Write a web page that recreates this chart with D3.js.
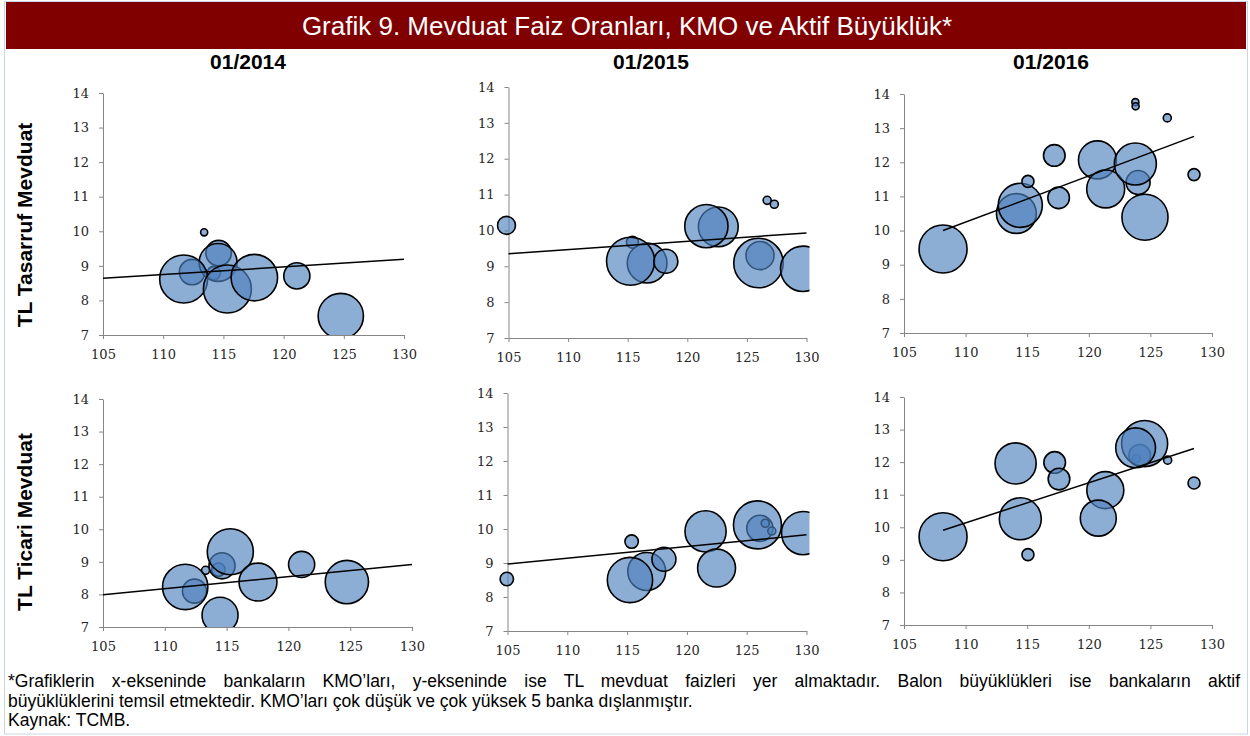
<!DOCTYPE html>
<html>
<head>
<meta charset="utf-8">
<script src="https://cdn.jsdelivr.net/npm/d3@7"></script>
<style>
  body { margin: 0; background: #fff; }
  svg text { font-family: "Liberation Sans", Arial, sans-serif; }
  .axis path, .axis line { stroke: #868686; stroke-width: 1; }
  .axis text { font-family: "DejaVu Serif", serif; font-size: 13px; fill: #262626; }
</style>
</head>
<body>
<svg width="1250" height="736"></svg>
<script>
// Column and row titles
var tarihler = ['01/2014', '01/2015', '01/2016'];
var satirlar = ['TL Tasarruf Mevduat', 'TL Ticari Mevduat'];
var xTicks = [105, 110, 115, 120, 125, 130];
var yTicks = [7, 8, 9, 10, 11, 12, 13, 14];

// Each bank: [KMO, mevduat faizi, aktif büyüklük (relative)]
var tasarruf2014 = [
    [112.4, 8.82, 18], [114.2, 8.79, 5], [114.6, 9.37, 18], [113.4, 9.97, 1.4],
    [114.56, 9.1, 40], [111.7, 8.62, 64], [115.33, 8.33, 64], [117.57, 8.66, 60],
    [121.1, 8.71, 19], [124.75, 7.55, 57]
];
var tasarruf2015 = [
    [115.4, 9.67, 4], [116.63, 9.09, 44], [115.24, 9.14, 64], [118.2, 9.14, 16],
    [122.6, 10.1, 44], [121.6, 10.12, 52], [126.1, 9.3, 22], [125.97, 9.09, 68],
    [126.7, 10.84, 1.8], [127.3, 10.73, 1.8], [104.83, 10.14, 9], [129.72, 8.93, 57]
];
var tasarruf2016 = [
    [114.12, 10.5, 44], [114.44, 10.74, 54], [115.06, 11.44, 4], [117.2, 12.2, 13],
    [117.55, 10.96, 13], [124.0, 11.41, 16], [120.7, 12.07, 40], [121.37, 11.22, 40],
    [123.78, 11.95, 49], [124.56, 10.39, 59], [123.78, 13.76, 1.4], [123.8, 13.64, 1.4],
    [126.37, 13.3, 1.8], [128.54, 11.64, 4], [108.17, 9.46, 64]
];
var ticari2014 = [
    [112.4, 8.1, 16], [114.34, 8.76, 5], [114.63, 8.88, 19], [113.3, 8.74, 1.8],
    [111.65, 8.23, 57], [115.3, 9.31, 59], [117.54, 8.38, 40], [121.07, 8.92, 19],
    [124.73, 8.38, 52], [114.47, 7.36, 36]
];
var ticari2015 = [
    [116.64, 8.75, 40], [115.24, 8.5, 57], [115.38, 9.63, 5], [104.94, 8.53, 5],
    [118.08, 9.11, 16], [121.56, 9.93, 47], [122.48, 8.85, 40], [126.1, 10.02, 19],
    [126.55, 10.17, 1.8], [127.1, 9.94, 1.8], [125.9, 10.12, 64], [129.72, 9.88, 52]
];
var ticari2016 = [
    [123.86, 12.11, 1.8], [124.13, 12.21, 13], [124.53, 12.57, 59], [123.8, 12.44, 44],
    [108.17, 9.71, 64], [114.06, 11.96, 47], [114.44, 10.26, 49], [115.06, 9.16, 4],
    [117.23, 11.99, 13], [117.58, 11.48, 13], [121.34, 11.14, 38], [120.77, 10.28, 36],
    [126.4, 12.06, 1.8], [128.54, 11.36, 4]
];

// Trend lines: [[x0, y0], [x1, y1]]
var trendTasarruf2014 = [[105, 8.64], [130, 9.19]];
var trendTasarruf2015 = [[105, 9.35], [130, 9.93]];
var trendTasarruf2016 = [[108.17, 10.0], [128.54, 12.76]];
var trendTicari2014 = [[105, 7.99], [130, 8.92]];
var trendTicari2015 = [[105, 8.97], [130, 9.83]];
var trendTicari2016 = [[108.17, 9.91], [128.54, 12.42]];

var footnote = [
    '*Grafiklerin x-ekseninde bankaların KMO’ları, y-ekseninde ise TL mevduat faizleri yer almaktadır. Balon büyüklükleri ise bankaların aktif',
    'büyüklüklerini temsil etmektedir. KMO’ları çok düşük ve çok yüksek 5 banka dışlanmıştır.',
    'Kaynak: TCMB.'
];

var svg = d3.select('svg');

// Outer frame and title band
svg.append('rect')
    .attr('x', 4.5).attr('y', 1.5).attr('width', 1243).attr('height', 732.5)
    .attr('fill', 'none').attr('stroke', '#c9d6e6');
svg.append('rect')
    .attr('x', 6).attr('y', 2).attr('width', 1240).attr('height', 47)
    .attr('fill', '#800000');
svg.append('text')
    .attr('x', 627).attr('y', 34.5)
    .attr('text-anchor', 'middle')
    .attr('fill', '#fff')
    .style('font-size', '26px')
    .text('Grafik 9. Mevduat Faiz Oranları, KMO ve Aktif Büyüklük*');

// Column titles
var colCenters = [248, 651, 1051];
tarihler.forEach(function(t, i) {
    svg.append('text')
        .attr('x', colCenters[i]).attr('y', 69)
        .attr('text-anchor', 'middle')
        .style('font-size', '21px').style('font-weight', 'bold')
        .text(t);
});

// Row titles
var rowCenters = [225, 522];
satirlar.forEach(function(t, i) {
    svg.append('text')
        .attr('transform', 'translate(32,' + rowCenters[i] + ') rotate(-90)')
        .attr('text-anchor', 'middle')
        .style('font-size', '21px').style('font-weight', 'bold')
        .text(t);
});

// Panel boxes: left, right, top (14), bottom (7)
var panels = [
    {data: tasarruf2014, trend: trendTasarruf2014, l: 103, r: 404, t: 93, b: 335},
    {data: tasarruf2015, trend: trendTasarruf2015, l: 508.5, r: 806.5, t: 87, b: 338},
    {data: tasarruf2016, trend: trendTasarruf2016, l: 904, r: 1212, t: 94, b: 333},
    {data: ticari2014, trend: trendTicari2014, l: 103, r: 412, t: 399, b: 627},
    {data: ticari2015, trend: trendTicari2015, l: 507.5, r: 806.5, t: 393, b: 631},
    {data: ticari2016, trend: trendTicari2016, l: 904, r: 1212, t: 397, b: 625}
];

var rScale = d3.scaleSqrt().domain([0, 100]).range([0, 30]);

panels.forEach(function(p, i) {
    var xScale = d3.scaleLinear().domain([105, 130]).range([p.l, p.r]);
    var yScale = d3.scaleLinear().domain([7, 14]).range([p.b, p.t]);

    var g = svg.append('g');

    g.append('clipPath').attr('id', 'clip' + i)
        .append('rect')
        .attr('x', p.l - 12).attr('y', p.t - 20)
        .attr('width', p.r - p.l + 15).attr('height', p.b - p.t + 20);

    g.append('g')
        .attr('class', 'axis')
        .attr('transform', 'translate(0,' + p.b + ')')
        .call(d3.axisBottom(xScale).tickValues(xTicks).tickFormat(d3.format('d'))
            .tickSize(4).tickSizeOuter(0).tickPadding(11));

    g.append('g')
        .attr('class', 'axis')
        .attr('transform', 'translate(' + p.l + ',0)')
        .call(d3.axisLeft(yScale).tickValues(yTicks).tickFormat(d3.format('d'))
            .tickSize(4).tickSizeOuter(0).tickPadding(10));

    var plot = g.append('g').attr('clip-path', 'url(#clip' + i + ')');

    plot.selectAll('.bubble')
        .data(p.data)
        .enter()
        .append('circle')
        .attr('class', 'bubble')
        .attr('cx', function(d) { return xScale(d[0]); })
        .attr('cy', function(d) { return yScale(d[1]); })
        .attr('r', function(d) { return rScale(d[2]); })
        .attr('fill', 'rgba(79,129,189,0.65)')
        .attr('stroke', '#000')
        .attr('stroke-width', 1.6);

    g.append('path')
        .datum(p.trend)
        .attr('d', d3.line()
            .x(function(d) { return xScale(d[0]); })
            .y(function(d) { return yScale(d[1]); }))
        .attr('stroke', '#000')
        .attr('stroke-width', 1.5)
        .attr('fill', 'none');
});

// Footnote, first line justified with word spacing
var fn = svg.append('g').style('font-size', '17.5px').attr('fill', '#000');
var line1 = fn.append('text').attr('x', 8).attr('y', 687).text(footnote[0]);
var natural = line1.node().getComputedTextLength();
var gaps = footnote[0].split(' ').length - 1;
line1.attr('word-spacing', Math.max(0, (1240 - 8 - natural) / gaps) + 'px');
if (natural > 1232) {
    line1.attr('textLength', 1232).attr('lengthAdjust', 'spacingAndGlyphs');
}
fn.append('text').attr('x', 8).attr('y', 706.5).text(footnote[1]);
fn.append('text').attr('x', 8).attr('y', 726).text(footnote[2]);
</script>
</body>
</html>
